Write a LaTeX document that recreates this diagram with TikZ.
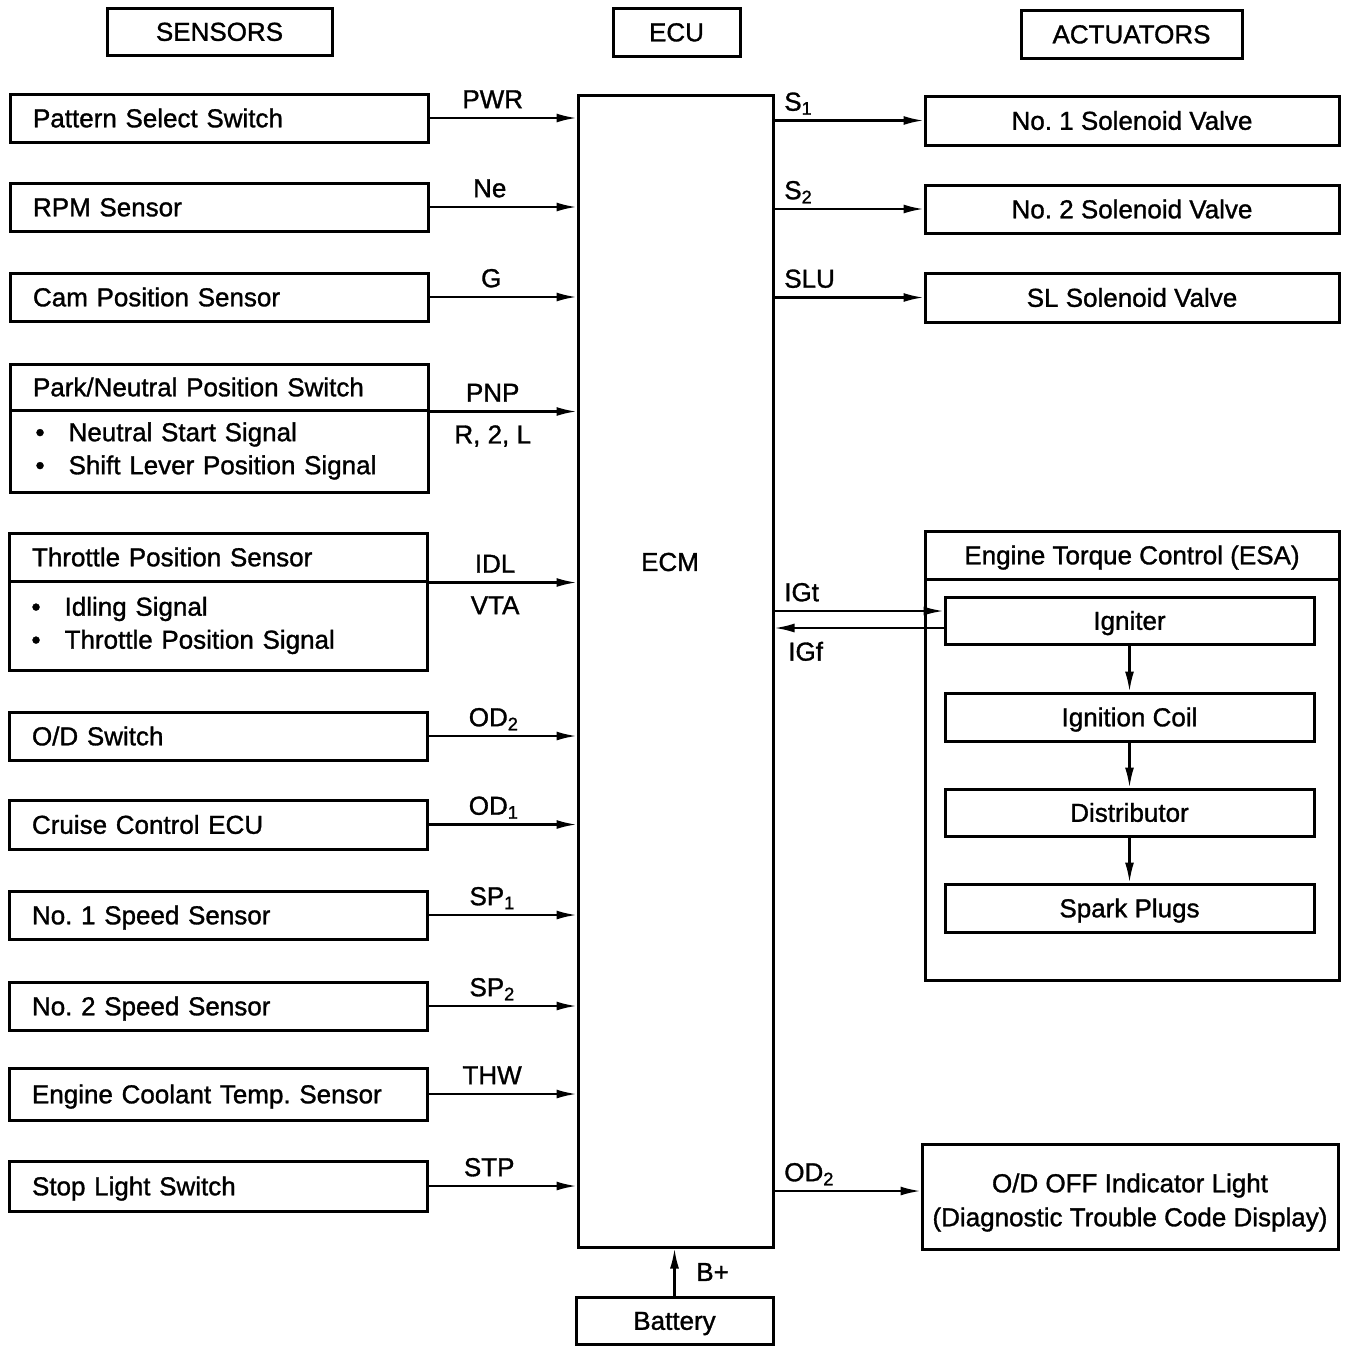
\documentclass[tikz,border=0pt]{standalone}
\usepackage{fontspec}
\setmainfont{Liberation Sans}[FakeBold=1.2, AutoFakeBold=1.2]
\usetikzlibrary{arrows.meta}

\newcommand{\bul}{\textbullet\hspace{24pt}}

\begin{document}
\frenchspacing
\begin{tikzpicture}[x=1pt, y=-1pt,
    font=\fontsize{26}{33}\selectfont\bfseries,
    frame/.style={draw, line width=3pt, inner sep=0pt},
    box/.style={frame, text height=23pt, text depth=4.4pt},
    sensor/.style={box, minimum height=48pt, text width=372pt, inner xsep=23pt, align=left},
    subbox/.style={frame, align=left},
    sig/.style={line width=2.2pt, -{Latex[length=20pt, width=9pt]}},
    lab/.style={inner sep=8.7pt, text depth=0pt}]
    \useasboundingbox (0,0) rectangle (1360,1352);

    % headers
    \node[box, minimum width=225pt, minimum height=47pt] (sensors)   at (219.5, 31.5) {SENSORS};
    \node[box, minimum width=127pt, minimum height=48pt] (ecu)       at (676.5, 32)   {ECU};
    \node[box, minimum width=221pt, minimum height=48pt] (actuators) at (1131.5, 34)  {ACTUATORS};

    % ECM
    \node[frame, minimum width=195pt, minimum height=1152pt] (ECM) at (675.5, 671) {};
    \node[] (ecmtext) at (670, 562) {ECM};

    % sensors
    \node[sensor] (pss) at (219, 118)  {Pattern Select Switch};
    \node[sensor] (rpm) at (219, 207)  {RPM Sensor};
    \node[sensor] (cam) at (219, 297)  {Cam Position Sensor};
    \node[sensor, minimum height=46pt] (pnp) at (219, 387) {Park/Neutral Position Switch};
    \node[subbox, minimum height=82pt, text width=367pt, inner xsep=25.5pt] (pnpsub) at (219, 451)
        {\bul Neutral Start Signal\\ \bul Shift Lever Position Signal};
    \node[sensor] (tps) at (218, 557)  {Throttle Position Sensor};
    \node[subbox, minimum height=89pt, text width=373pt, inner xsep=22.5pt] (tpssub) at (218, 625.5)
        {\bul Idling Signal\\ \bul Throttle Position Signal};
    \node[sensor] (ods) at (218, 736)  {O/D Switch};
    \node[sensor, minimum height=49pt] (cce) at (218, 824.5) {Cruise Control ECU};
    \node[sensor] (sps1) at (218, 915) {No. 1 Speed Sensor};
    \node[sensor] (sps2) at (218, 1006) {No. 2 Speed Sensor};
    \node[sensor, minimum height=52pt] (ect) at (218, 1094) {Engine Coolant Temp. Sensor};
    \node[sensor, minimum height=50pt] (sls) at (218, 1186) {Stop Light Switch};

    \draw[sig] (pss) -- (pss -| ECM.west) node[lab, above, pos=.43] {PWR};
    \draw[sig] (rpm) -- (rpm -| ECM.west) node[lab, above, pos=.41] {Ne};
    \draw[sig] (cam) -- (cam -| ECM.west) node[lab, above, pos=.42] {G};
    \draw[sig] (pnp.south east) -- (pnp.south east -| ECM.west)
        node[lab, above, pos=.43] {PNP} node[lab, below=4pt, pos=.43] {R, 2, L};
    \draw[sig] (tps.south east) -- (tps.south east -| ECM.west)
        node[lab, above, pos=.45] {IDL} node[lab, below=4pt, pos=.45] {VTA};
    \draw[sig] (ods) -- (ods -| ECM.west) node[lab, above, pos=.44] {OD\textsubscript{2}};
    \draw[sig] (cce) -- (cce -| ECM.west) node[lab, above, pos=.44] {OD\textsubscript{1}};
    \draw[sig] (sps1) -- (sps1 -| ECM.west) node[lab, above, pos=.43] {SP\textsubscript{1}};
    \draw[sig] (sps2) -- (sps2 -| ECM.west) node[lab, above, pos=.43] {SP\textsubscript{2}};
    \draw[sig] (ect) -- (ect -| ECM.west) node[lab, above, pos=.43] {THW};
    \draw[sig] (sls) -- (sls -| ECM.west) node[lab, above, pos=.41] {STP};

    % actuators
    \node[box, minimum width=414pt, minimum height=49pt] (sv1) at (1132, 120.5) {No. 1 Solenoid Valve};
    \node[box, minimum width=414pt, minimum height=48pt] (sv2) at (1132, 209)   {No. 2 Solenoid Valve};
    \node[box, minimum width=414pt, minimum height=49pt] (slv) at (1132, 297.5) {SL Solenoid Valve};

    \draw[sig] (sv1 -| ECM.east) node[lab, above right] {S\textsubscript{1}} -- (sv1);
    \draw[sig] (sv2 -| ECM.east) node[lab, above right] {S\textsubscript{2}} -- (sv2);
    \draw[sig] (slv -| ECM.east) node[lab, above right] {SLU} -- (slv);

    % engine torque control
    \node[box, minimum width=414pt, minimum height=48pt] (esa) at (1132, 555) {Engine Torque Control (ESA)};
    \node[frame, minimum width=414pt, minimum height=401pt] (esabody) at (1132, 779.5) {};
    \node[box, minimum width=369pt, minimum height=47pt] (ign)   at (1129.5, 620.5) {Igniter};
    \node[box, minimum width=369pt, minimum height=48pt] (coil)  at (1129.5, 717)   {Ignition Coil};
    \node[box, minimum width=369pt, minimum height=47pt] (dist)  at (1129.5, 812.5) {Distributor};
    \node[box, minimum width=369pt, minimum height=48pt] (spark) at (1129.5, 908)   {Spark Plugs};

    \coordinate (igt) at ([yshift=9.5pt]ign.west);
    \coordinate (igf) at ([yshift=-7.5pt]ign.west);
    \draw[sig] (igt -| ECM.east) node[lab, above right] {IGt} -- (igt);
    \draw[sig] (igf) -- (igf -| ECM.east) node[lab, below right=4pt] {IGf};
    \draw[sig] (ign) -- (coil);
    \draw[sig] (coil) -- (dist);
    \draw[sig] (dist) -- (spark);

    % indicator light
    \node[frame, minimum width=416pt, minimum height=105pt, align=center, inner xsep=2pt,
          text height=65pt, text depth=5.5pt,
          font=\fontsize{26}{34}\selectfont\bfseries] (odl) at (1130, 1196.5)
        {O/D OFF Indicator Light\\(Diagnostic Trouble Code Display)};
    \coordinate (odin) at ([yshift=5.5pt]odl.west);
    \draw[sig] (odin -| ECM.east) node[lab, above right] {OD\textsubscript{2}} -- (odin);

    % battery
    \node[box, minimum width=197pt, minimum height=47pt] (bat) at (674.5, 1320.5) {Battery};
    \draw[sig] (bat) -- (bat |- ECM.south) node[lab, right=12pt, midway] {B+};
\end{tikzpicture}
\end{document}
